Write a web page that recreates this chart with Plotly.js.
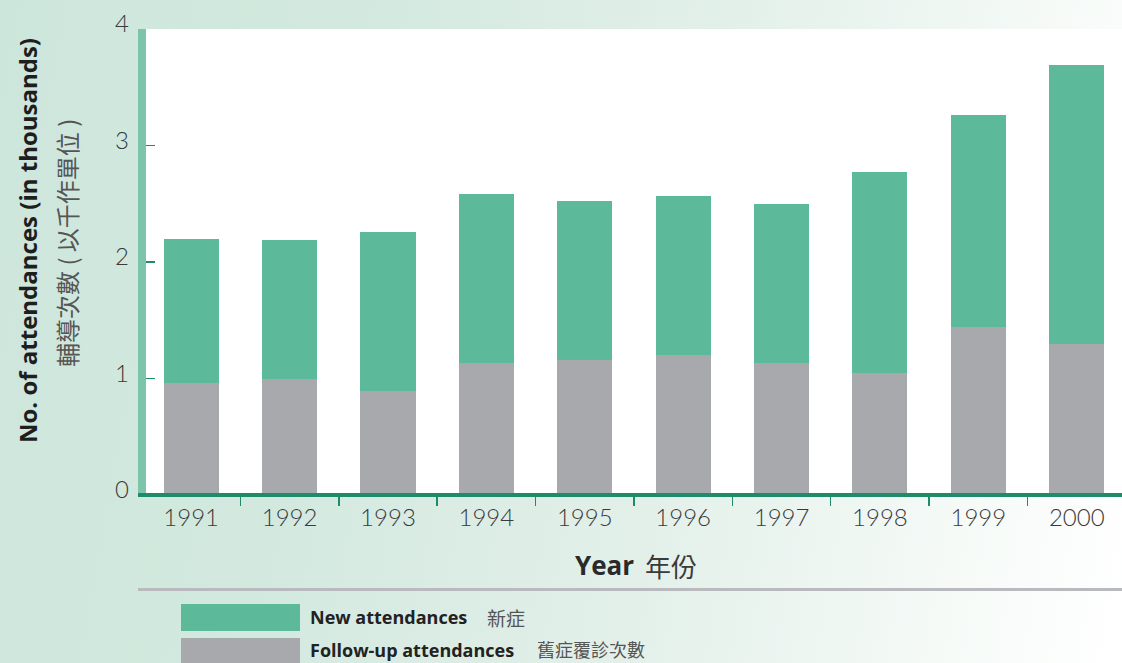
<!DOCTYPE html>
<html>
<head>
<meta charset="utf-8">
<script src="https://cdn.plot.ly/plotly-3.0.1.min.js"></script>
<style>
  html, body { margin: 0; padding: 0; }
  #chart {
    width: 1122px; height: 663px;
    background: linear-gradient(100deg, #cde6db 0%, #d3e9df 30%, #e3f0ea 60%, #f5faf7 85%, #ffffff 100%);
  }
</style>
</head>
<body>
<div id="chart"></div>
<script>
// ---- data ----
const years = ["1991","1992","1993","1994","1995","1996","1997","1998","1999","2000"];
const followUp = [0.96, 1.00, 0.89, 1.13, 1.16, 1.20, 1.13, 1.05, 1.44, 1.30];
const newAtt   = [1.24, 1.19, 1.37, 1.45, 1.36, 1.37, 1.37, 1.72, 1.82, 2.39];
const seriesNames = ["New attendances", "Follow-up attendances"];
const seriesNamesZh = ["新症", "舊症覆診次數"];
const yTicks = [0, 1, 2, 3, 4];

// ---- style ----
const GREEN = "#5cba9a", GRAY = "#a8a9ad", DARKGREEN = "#1e8c6a", AXISGREEN = "#7cc4aa";
const W = 1122, H = 663, L = 146, R = 0, T = 29, B = 168;
const PW = W - L - R, PH = H - T - B;
const px = x => (x - L) / PW;           // pixel -> paper x
const py = y => (H - B - y) / PH;       // pixel -> paper y

const traces = [
  { type: "bar", x: years, y: followUp, name: seriesNames[1], marker: { color: GRAY }, width: 0.56, hoverinfo: "x+y" },
  { type: "bar", x: years, y: newAtt,   name: seriesNames[0], marker: { color: GREEN }, width: 0.56, hoverinfo: "x+y" }
];

const shapes = [
  { type: "rect", xref: "paper", yref: "paper", x0: px(138), x1: px(146), y0: py(495), y1: py(29), fillcolor: AXISGREEN, line: { width: 0 }, layer: "above" },
  { type: "rect", xref: "paper", yref: "paper", x0: px(138), x1: px(1122), y0: py(497), y1: py(493), fillcolor: DARKGREEN, line: { width: 0 }, layer: "above" },
  { type: "rect", xref: "paper", yref: "paper", x0: px(138), x1: px(1122), y0: py(591), y1: py(588), fillcolor: "#b9babd", line: { width: 0 }, layer: "above" },
  { type: "rect", xref: "paper", yref: "paper", x0: px(181), x1: px(300), y0: py(631), y1: py(604), fillcolor: GREEN, line: { width: 0 } },
  { type: "rect", xref: "paper", yref: "paper", x0: px(181), x1: px(300), y0: py(666), y1: py(638), fillcolor: GRAY, line: { width: 0 } }
];

const annotations = [
  { xref: "paper", yref: "paper", x: px(27), y: py(241), text: "No. of attendances (in thousands)", textangle: -90, showarrow: false,
    font: { family: "Open Sans, DejaVu Sans", size: 24, color: "#1e1e1e", weight: 700 }, xanchor: "center", yanchor: "middle" },
  { xref: "paper", yref: "paper", x: px(67), y: py(243), text: "輔導次數 ( 以千作單位 )", textangle: -90, showarrow: false,
    font: { family: "Noto Sans CJK TC", size: 24, color: "#555555" }, xanchor: "center", yanchor: "middle" },
  { xref: "paper", yref: "paper", x: px(573), y: py(565), text: "<b>Year</b>", showarrow: false,
    font: { family: "Open Sans", size: 26, color: "#2a2a2a" }, xanchor: "left", yanchor: "middle" },
  { xref: "paper", yref: "paper", x: px(643), y: py(565), text: "年份", showarrow: false,
    font: { family: "Noto Sans CJK TC", size: 26, color: "#3a3a3a" }, xanchor: "left", yanchor: "middle" },
  { xref: "paper", yref: "paper", x: px(308), y: py(617), text: "<b>" + seriesNames[0] + "</b>", showarrow: false,
    font: { family: "Open Sans", size: 18, color: "#222222" }, xanchor: "left", yanchor: "middle" },
  { xref: "paper", yref: "paper", x: px(485), y: py(617), text: seriesNamesZh[0], showarrow: false,
    font: { family: "Noto Sans CJK TC", size: 19, color: "#555555" }, xanchor: "left", yanchor: "middle" },
  { xref: "paper", yref: "paper", x: px(308), y: py(650), text: "<b>" + seriesNames[1] + "</b>", showarrow: false,
    font: { family: "Open Sans", size: 18, color: "#222222" }, xanchor: "left", yanchor: "middle" },
  { xref: "paper", yref: "paper", x: px(535), y: py(649), text: seriesNamesZh[1], showarrow: false,
    font: { family: "Noto Sans CJK TC", size: 18, color: "#555555" }, xanchor: "left", yanchor: "middle" }
];

const layout = {
  width: W, height: H,
  margin: { l: L, r: R, t: T, b: B, pad: 0 },
  paper_bgcolor: "rgba(0,0,0,0)",
  plot_bgcolor: "#ffffff",
  barmode: "stack",
  showlegend: false,
  xaxis: {
    type: "category", range: [-0.459, 9.46], fixedrange: true,
    showgrid: false, zeroline: false, showline: false,
    ticks: "outside", tickson: "boundaries", ticklen: 10, tickwidth: 1.5, tickcolor: DARKGREEN,
    tickfont: { family: "Lato, Open Sans", size: 24, color: "#3a3a3a", weight: 300 },
    ticklabelstandoff: 6
  },
  yaxis: {
    range: [0, 4], tickvals: yTicks, ticktext: yTicks.map(String), fixedrange: true,
    showgrid: false, zeroline: false, showline: false,
    ticks: "inside", ticklen: 9, tickwidth: 1.5, tickcolor: DARKGREEN,
    tickfont: { family: "Lato, Open Sans", size: 24, color: "#3a3a3a", weight: 300 },
    ticklabelstandoff: 16, ticklabelshift: -5
  },
  shapes: shapes,
  annotations: annotations,
  font: { family: "Open Sans" }
};

Plotly.newPlot("chart", traces, layout, { displayModeBar: false, staticPlot: true });
</script>
</body>
</html>
